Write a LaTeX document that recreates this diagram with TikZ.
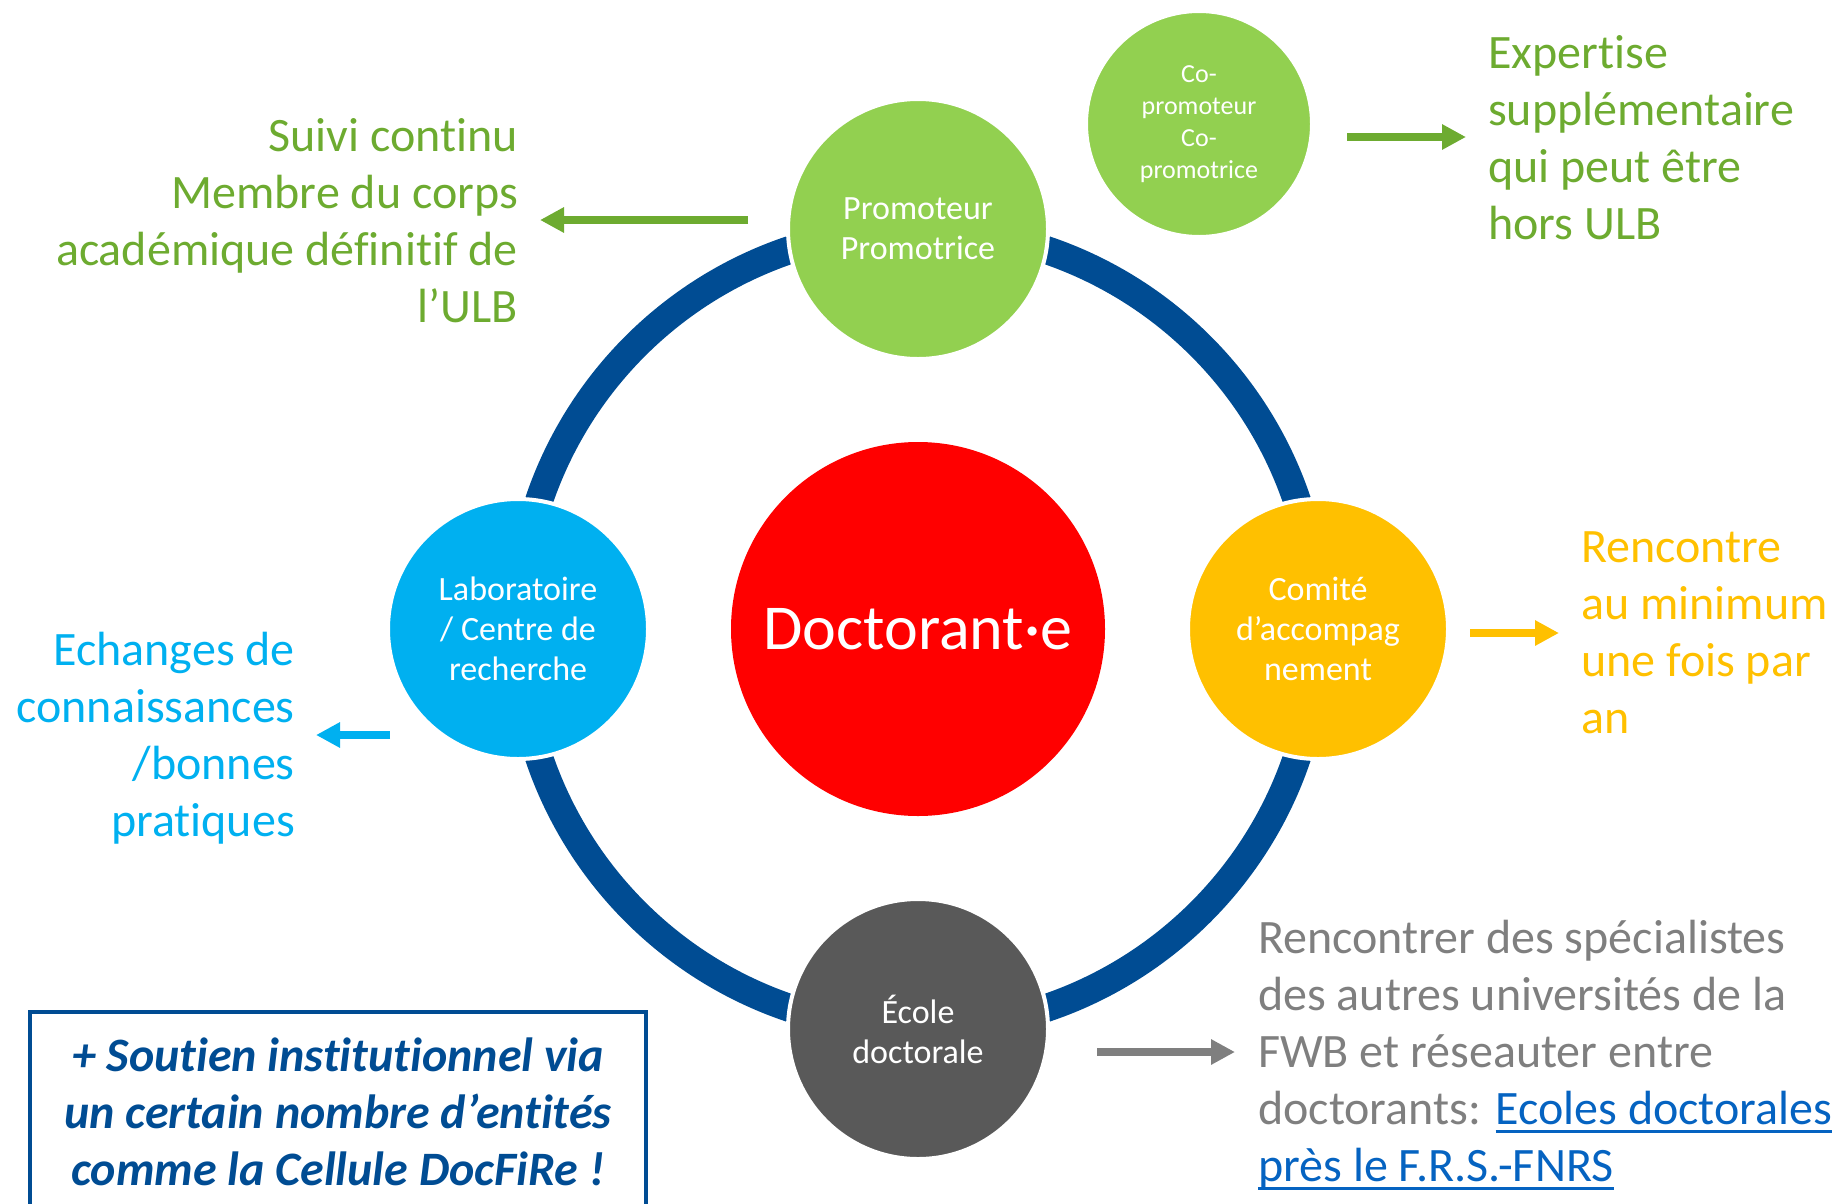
\documentclass[tikz,border=0pt]{standalone}
\usepackage{fontspec}
\setmainfont{Carlito}[Ligatures={NoCommon,NoRequired,NoContextual}, Contextuals=NoAlternate]
\usepackage{tikz}
\usetikzlibrary{positioning, arrows.meta}

\definecolor{ringblue}{HTML}{004C93}
\definecolor{docred}{HTML}{FF0000}
\definecolor{promogreen}{HTML}{92D050}
\definecolor{leafgreen}{HTML}{6DAB30}
\definecolor{labocyan}{HTML}{00B0F0}
\definecolor{comiteamber}{HTML}{FFC000}
\definecolor{ecolegray}{HTML}{595959}
\definecolor{notegray}{HTML}{7F7F7F}
\definecolor{linkblue}{HTML}{0563C1}

\newcommand{\lnkul}[1]{\setbox0\hbox{#1}\rlap{\rule[-8pt]{\wd0}{2.5pt}}\box0}

\begin{document}
\begin{tikzpicture}[x=1pt, y=-1pt]
	% Define styles
	\tikzset{
		hub/.style={circle, fill=docred, text=white, minimum size=374pt, inner sep=0pt, font=\fontsize{64}{72}\selectfont},
		role/.style={circle, draw=white, line width=4pt, text=white, minimum size=260pt, inner sep=0pt, align=center, font=\fontsize{34}{40}\selectfont},
		corole/.style={role, minimum size=226pt, font=\fontsize{26}{32}\selectfont},
		note/.style={inner sep=0pt, font=\fontsize{48}{57}\selectfont},
		line/.style={line width=8pt, -{Triangle[length=24pt, width=24pt]}}
	}
	\useasboundingbox (0,0) rectangle (1834,1203);

	% Nodes
	\node[hub] (doc) at (918,629) {Doctorant·e};
	\draw[ringblue, line width=28pt] (doc.center) circle[radius=400pt];

	\node[role, fill=promogreen, on grid, above=400pt of doc] (promo) {Promoteur\\Promotrice};
	\node[role, fill=labocyan, on grid, left=400pt of doc] (labo) {Laboratoire\\/ Centre de\\recherche};
	\node[role, fill=comiteamber, on grid, right=400pt of doc] (comite) {Comité\\d’accompag\\nement};
	\node[role, fill=ecolegray, on grid, below=400pt of doc] (ecole) {École\\doctorale};
	\node[corole, fill=promogreen] (copromo) at (1199,124) {Co-\\promoteur\\Co-\\promotrice};

	\node[note, text=leafgreen, align=right, anchor=north east] (suivi) at (518,118) {Suivi continu\\Membre du corps\\académique définitif de\\l’ULB};
	\node[note, text=leafgreen, align=left, anchor=north west] (expertise) at (1488,35) {Expertise\\supplémentaire\\qui peut être\\hors ULB};
	\node[note, text=comiteamber, align=left, anchor=north west] (rencontre) at (1581,531) {Rencontre\\au minimum\\une fois par\\an};
	\node[note, text=labocyan, align=right, anchor=north east] (echanges) at (295,632) {Echanges de\\connaissances\\/bonnes\\pratiques};
	\node[note, text=notegray, align=left, anchor=north west] (reseau) at (1258,920) {Rencontrer des spécialistes\\des autres universités de la\\FWB et réseauter entre\\doctorants: \textcolor{linkblue}{\lnkul{Ecoles doctorales}}\\\textcolor{linkblue}{\lnkul{près le F.R.S.-FNRS}}};

	\draw[ringblue, line width=4.5pt] (30,1012) rectangle (646,1230);
	\node[note, text=ringblue, align=center, anchor=north, font=\fontsize{48}{57}\selectfont\bfseries\itshape] (soutien) at (338,1038) {+ Soutien institutionnel via\\un certain nombre d’entités\\comme la Cellule DocFiRe !};

	% Arrows
	\draw[line, leafgreen, shorten <=38pt, shorten >=22pt] ([yshift=9pt]promo.west) -- ([yshift=9pt]promo.west -| suivi.east);
	\draw[line, leafgreen, shorten <=33pt, shorten >=22pt] ([yshift=-13pt]copromo.east) -- ([yshift=-13pt]copromo.east -| expertise.west);
	\draw[line, comiteamber, shorten <=20pt, shorten >=22pt] ([yshift=-4pt]comite.east) -- ([yshift=-4pt]comite.east -| rencontre.west);
	\draw[line, labocyan, shorten <=-4pt, shorten >=21pt] ([yshift=-106pt]labo.west) -- ([yshift=-106pt]labo.west -| echanges.east);
	\draw[line, notegray, shorten <=47pt, shorten >=23pt] ([yshift=-23pt]ecole.east) -- ([yshift=-23pt]ecole.east -| reseau.west);

\end{tikzpicture}
\end{document}
